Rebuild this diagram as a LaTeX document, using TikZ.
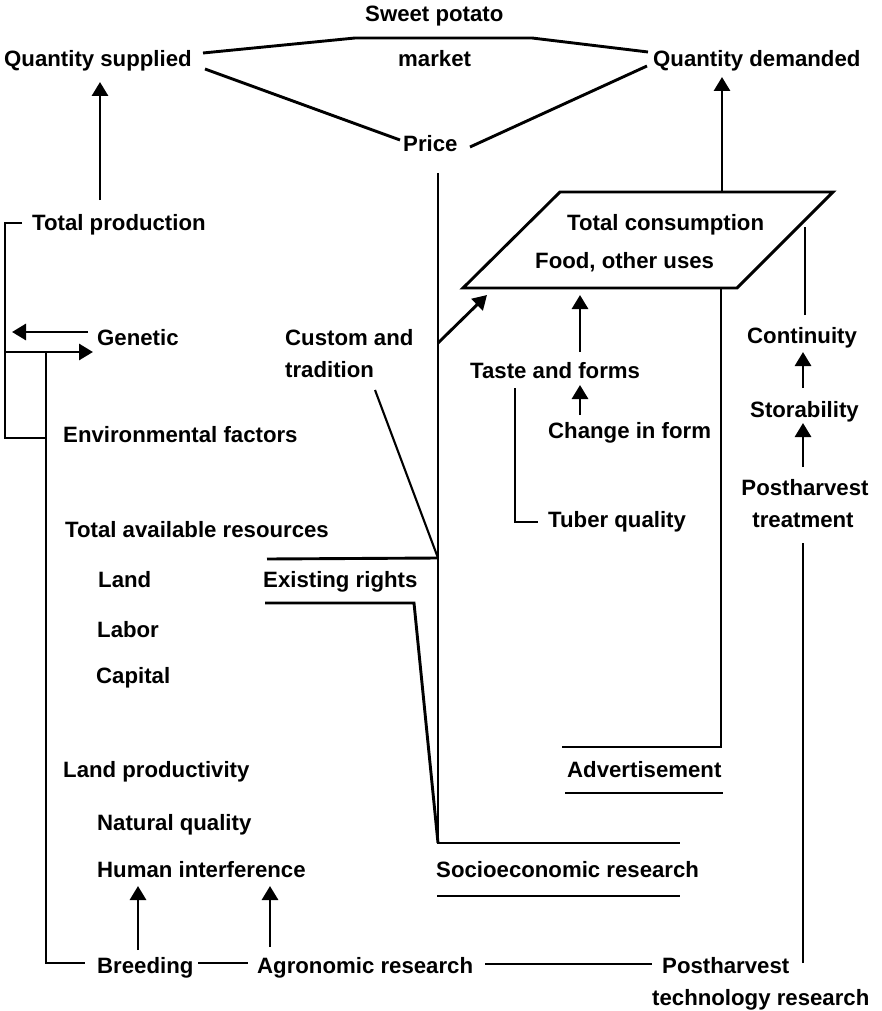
\documentclass[tikz,border=0pt]{standalone}
\usepackage{fontspec}
\setmainfont{Liberation Sans}
\usetikzlibrary{arrows.meta}
\begin{document}
\begin{tikzpicture}[x=1pt,y=-1pt,
  lbl/.style={anchor=base west,inner sep=0pt,font=\fontsize{22.2}{25}\selectfont\bfseries},
  wire/.style={line width=2.9pt,line join=miter},
  fine/.style={line width=2.1pt},
  arr/.style={wire,-{Triangle[width=16pt,length=14pt]}},
]
\useasboundingbox (0,0) rectangle (882,1011);

% ---- labels ----
\node[lbl] (sp)  at (365,22)  {Sweet potato};
\node[lbl] (qs)  at (4,67)    {Quantity supplied};
\node[lbl] (mk)  at (398,67)  {market};
\node[lbl] (qd)  at (653,67)  {Quantity demanded};
\node[lbl] (pr)  at (403,152) {Price};
\node[lbl] (tp)  at (32,230)  {Total production};
\node[lbl] (tc)  at (567,230) {Total consumption};
\node[lbl] (fo)  at (535,268) {Food, other uses};
\node[lbl] (ge)  at (97,345)  {Genetic};
\node[lbl] (ct1) at (285,345) {Custom and};
\node[lbl] (ct2) at (285,377) {tradition};
\node[lbl] (co)  at (747,343) {Continuity};
\node[lbl] (ta)  at (470,378) {Taste and forms};
\node[lbl] (st)  at (750,417) {Storability};
\node[lbl] (cf)  at (548,438) {Change in form};
\node[lbl] (ef)  at (63,442)  {Environmental factors};
\node[lbl,anchor=base] (pht1) at (805,495) {Postharvest};
\node[lbl,anchor=base] (pht2) at (803,527) {treatment};
\node[lbl] (tq)  at (548,527) {Tuber quality};
\node[lbl] (tar) at (65,537)  {Total available resources};
\node[lbl] (la)  at (98,587)  {Land};
\node[lbl] (er)  at (263,587) {Existing rights};
\node[lbl] (lb)  at (97,637)  {Labor};
\node[lbl] (ca)  at (96,683)  {Capital};
\node[lbl] (lp)  at (63,777)  {Land productivity};
\node[lbl] (ad)  at (567,777) {Advertisement};
\node[lbl] (nq)  at (97,830)  {Natural quality};
\node[lbl] (hi)  at (97,877)  {Human interference};
\node[lbl] (se)  at (436,877) {Socioeconomic research};
\node[lbl] (br)  at (97,973)  {Breeding};
\node[lbl] (ag)  at (257,973) {Agronomic research};
\node[lbl] (ptr1) at (662,973) {Postharvest};
\node[lbl] (ptr2) at (652,1005) {technology research};

% ---- connection points ----
\coordinate (qs-e1) at (203,53);  \coordinate (qs-e2) at (205,69);
\coordinate (mk-l) at (355,38);   \coordinate (mk-r) at (532,38);
\coordinate (qd-w1) at (648,52);  \coordinate (qd-w2) at (647,66);
\coordinate (pr-w) at (400,140);  \coordinate (pr-e) at (470,147);
\coordinate (qs-s) at (100,82);   \coordinate (tp-n) at (100,200);
\coordinate (qd-s) at (722,77);
\coordinate (pr-s) at (438,173);
\coordinate (ct-j) at (438,343);
\coordinate (er-j) at (438,558);
\coordinate (se-nw) at (438,843); \coordinate (se-ne) at (680,843);
\coordinate (se-sw) at (437,896); \coordinate (se-se) at (680,896);
% parallelogram corners
\coordinate (tc-nw) at (560,192); \coordinate (tc-ne) at (833,192);
\coordinate (tc-se) at (737,288); \coordinate (tc-sw) at (463,288);
\coordinate (tc-n)  at (722,192);
\coordinate (tc-in) at (487,295);
\coordinate (tc-b)  at (721,288);
\coordinate (tc-r)  at (805,227);
\coordinate (tc-m)  at (580,295);
% right column
\coordinate (co-n) at (805,315);
\coordinate (co-s) at (803,352);  \coordinate (st-n) at (803,388);
\coordinate (st-s) at (803,423);  \coordinate (pht-n) at (803,467);
\coordinate (pht-s) at (803,543); \coordinate (ptr-n) at (803,963);
% advertisement
\coordinate (ad-ne) at (721,747); \coordinate (ad-nw) at (562,747);
\coordinate (ad-sw) at (565,793); \coordinate (ad-se) at (723,793);
% taste branch
\coordinate (ta-n) at (580,352);  \coordinate (ta-s) at (580,385);
\coordinate (cf-n) at (580,415);
\coordinate (ta-sw) at (515,388); \coordinate (tq-c) at (515,522);
\coordinate (tq-w) at (538,522);
% custom, existing rights
\coordinate (ct-s) at (375,390);
\coordinate (er-nw) at (267,559);
\coordinate (er-sw) at (265,603); \coordinate (er-se) at (414,603);
% left side
\coordinate (tp-w) at (22,223);   \coordinate (lft-t) at (5,223);
\coordinate (lft-b) at (5,438);   \coordinate (ef-w) at (46,438);
\coordinate (ge-w1) at (88,332);  \coordinate (lft-g) at (12,332);
\coordinate (lft-j) at (5,352);   \coordinate (ge-w2) at (93,352);
\coordinate (br-v) at (46,352);   \coordinate (br-c) at (46,963);
\coordinate (br-w) at (85,963);
\coordinate (br-e) at (198,963);  \coordinate (ag-w) at (248,963);
\coordinate (ag-e) at (485,964);  \coordinate (ptr-w) at (652,964);
\coordinate (hi-s1) at (138,886); \coordinate (br-n) at (138,950);
\coordinate (hi-s2) at (270,886); \coordinate (ag-n) at (270,947);

% ---- market triangle ----
\draw[wire] (qs-e1) -- (mk-l) -- (mk-r) -- (qd-w1);
\draw[wire] (qs-e2) -- (pr-w);
\draw[wire] (pr-e) -- (qd-w2);

% ---- supply side ----
\draw[arr] (tp-n) -- (qs-s);
\draw[wire] (tp-w) -- (lft-t) -- (lft-b) -- (ef-w);
\draw[arr] (ge-w1) -- (lft-g);
\draw[arr] (lft-j) -- (ge-w2);
\draw[wire] (br-v) -- (br-c) -- (br-w);
\draw[wire] (br-e) -- (ag-w);
\draw[wire] (ag-e) -- (ptr-w);
\draw[arr] (br-n) -- (hi-s1);
\draw[arr] (ag-n) -- (hi-s2);

% ---- consumption box ----
\draw[wire] (tc-nw) -- (tc-ne) -- (tc-se) -- (tc-sw) -- cycle;
\draw[arr] (tc-n) -- (qd-s);
\draw[arr] (ct-j) -- (tc-in);
\draw[arr] (ta-n) -- (tc-m);
\draw[arr] (cf-n) -- (ta-s);
\draw[wire] (ta-sw) -- (tq-c) -- (tq-w);

% ---- price line and socio-economic research ----
\draw[wire] (pr-s) -- (se-nw) -- (se-ne);
\draw[wire] (se-sw) -- (se-se);
\draw[fine] (ct-s) -- (er-j);
\draw[wire] (er-nw) -- (er-j);
\draw[wire] (er-sw) -- (er-se) -- (se-nw);

% ---- advertisement ----
\draw[wire] (tc-b) -- (ad-ne) -- (ad-nw);
\draw[wire] (ad-sw) -- (ad-se);

% ---- postharvest column ----
\draw[wire] (co-n) -- (tc-r);
\draw[arr] (st-n) -- (co-s);
\draw[arr] (pht-n) -- (st-s);
\draw[fine] (ptr-n) -- (pht-s);

\end{tikzpicture}
\end{document}
